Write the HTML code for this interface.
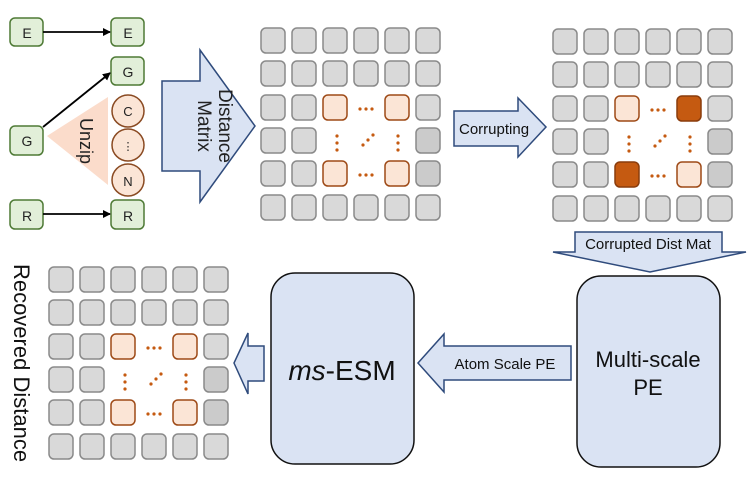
<!DOCTYPE html>
<html><head><meta charset="utf-8"><style>
html,body{margin:0;padding:0;background:#fff;}
svg{display:block;font-family:"Liberation Sans",sans-serif;}
</style></head><body>
<svg width="747" height="478" viewBox="0 0 747 478" xmlns="http://www.w3.org/2000/svg">
<defs>
<rect id="g" width="24" height="25" rx="5" fill="#d9d9d9" stroke="#8a8a8a" stroke-width="1.5"/>
<rect id="d" width="24" height="25" rx="5" fill="#cbcbcb" stroke="#8a8a8a" stroke-width="1.5"/>
<rect id="o" width="24" height="25" rx="5" fill="#fbe5d6" stroke="#9e4a17" stroke-width="1.5"/>
<rect id="x" width="24" height="25" rx="5" fill="#c55a11" stroke="#8a3c0c" stroke-width="1.5"/>
<g id="base">
<use href="#g" x="0" y="0"/><use href="#g" x="31" y="0"/><use href="#g" x="62" y="0"/><use href="#g" x="93" y="0"/><use href="#g" x="124" y="0"/><use href="#g" x="155" y="0"/>
<use href="#g" x="0" y="33"/><use href="#g" x="31" y="33"/><use href="#g" x="62" y="33"/><use href="#g" x="93" y="33"/><use href="#g" x="124" y="33"/><use href="#g" x="155" y="33"/>
<use href="#g" x="0" y="67"/><use href="#g" x="31" y="67"/><use href="#g" x="155" y="67"/>
<use href="#g" x="0" y="100"/><use href="#g" x="31" y="100"/><use href="#d" x="155" y="100"/>
<use href="#g" x="0" y="133"/><use href="#g" x="31" y="133"/><use href="#d" x="155" y="133"/>
<use href="#g" x="0" y="167"/><use href="#g" x="31" y="167"/><use href="#g" x="62" y="167"/><use href="#g" x="93" y="167"/><use href="#g" x="124" y="167"/><use href="#g" x="155" y="167"/>
<g fill="#c55a11">
<circle cx="99" cy="81" r="1.6"/><circle cx="105" cy="81" r="1.6"/><circle cx="111" cy="81" r="1.6"/>
<circle cx="99" cy="147" r="1.6"/><circle cx="105" cy="147" r="1.6"/><circle cx="111" cy="147" r="1.6"/>
<circle cx="76" cy="108" r="1.6"/><circle cx="76" cy="115" r="1.6"/><circle cx="76" cy="122" r="1.6"/>
<circle cx="137" cy="108" r="1.6"/><circle cx="137" cy="115" r="1.6"/><circle cx="137" cy="122" r="1.6"/>
<circle cx="102" cy="117" r="1.6"/><circle cx="107" cy="112" r="1.6"/><circle cx="112" cy="107" r="1.6"/>
</g>
</g>
<marker id="ah" markerWidth="8" markerHeight="8" refX="7" refY="4" orient="auto" markerUnits="userSpaceOnUse"><path d="M0,0 L8,4 L0,8 z" fill="#000"/></marker>
</defs>

<g fill="#e2efd9" stroke="#4e7a35" stroke-width="1.5">
<rect x="10" y="18" width="33" height="28" rx="5"/>
<rect x="111" y="18" width="33" height="28" rx="5"/>
<rect x="111" y="57" width="33" height="28" rx="5"/>
<rect x="10" y="126" width="33" height="29" rx="5"/>
<rect x="10" y="200" width="33" height="29" rx="5"/>
<rect x="111" y="200" width="33" height="29" rx="5"/>
</g>
<polygon points="47,136 108,97 108,185" fill="#fbdccb"/>
<g fill="#fbe5d6" stroke="#8a4a22" stroke-width="1.5">
<ellipse cx="128" cy="111" rx="16" ry="16"/>
<ellipse cx="128" cy="145" rx="16" ry="16"/>
<ellipse cx="128" cy="180" rx="16" ry="16"/>
</g>
<g stroke="#000" stroke-width="1.8" fill="none">
<line x1="43" y1="32" x2="110" y2="32" marker-end="url(#ah)"/>
<line x1="43" y1="127" x2="110" y2="73" marker-end="url(#ah)"/>
<line x1="43" y1="214" x2="110" y2="214" marker-end="url(#ah)"/>
</g>
<g font-size="14" fill="#222" text-anchor="middle">
<text x="27" y="38">E</text><text x="128" y="38">E</text><text x="128" y="77">G</text>
<text x="27" y="146">G</text><text x="27" y="221">R</text><text x="128" y="221">R</text>
<text x="128" y="116" font-size="13">C</text><text x="128" y="150" font-size="11">⋮</text><text x="128" y="186" font-size="13">N</text>
</g>
<text transform="translate(80,141) rotate(90)" font-size="18" fill="#222" text-anchor="middle">Unzip</text>

<polygon points="162,81 200,81 200,50 255,126 200,202 200,171 162,171" fill="#dae3f3" stroke="#2f4b7c" stroke-width="1.5"/>
<text transform="translate(198,126) rotate(90)" font-size="19" fill="#222" text-anchor="middle"><tspan x="0" y="-21">Distance</tspan><tspan x="0" y="0">Matrix</tspan></text>

<g transform="translate(261,28)"><use href="#base"/><use href="#o" x="62" y="67"/><use href="#o" x="124" y="67"/><use href="#o" x="62" y="133"/><use href="#o" x="124" y="133"/></g>

<polygon points="454,111 518,111 518,98 546,127 518,157 518,146 454,146" fill="#dae3f3" stroke="#2f4b7c" stroke-width="1.5"/>
<text x="459" y="134" font-size="15" fill="#111">Corrupting</text>

<g transform="translate(553,29)"><use href="#base"/><use href="#o" x="62" y="67"/><use href="#x" x="124" y="67"/><use href="#x" x="62" y="133"/><use href="#o" x="124" y="133"/></g>

<polygon points="575,232 722,232 722,252 746,252 650,272 553,252 575,252" fill="#dae3f3" stroke="#2f4b7c" stroke-width="1.5"/>
<text x="648" y="249" font-size="15" fill="#111" text-anchor="middle">Corrupted Dist Mat</text>

<rect x="577" y="276" width="143" height="191" rx="24" fill="#dae3f3" stroke="#111" stroke-width="1.5"/>
<text x="648" y="367" font-size="22" fill="#111" text-anchor="middle">Multi-scale</text>
<text x="648" y="395" font-size="22" fill="#111" text-anchor="middle">PE</text>

<polygon points="571,346 444,346 444,334 418,363 444,392 444,380 571,380" fill="#dae3f3" stroke="#2f4b7c" stroke-width="1.5"/>
<text x="505" y="369" font-size="15" fill="#111" text-anchor="middle">Atom Scale PE</text>

<rect x="271" y="273" width="143" height="191" rx="24" fill="#dae3f3" stroke="#111" stroke-width="1.5"/>
<text x="342" y="380" font-size="28" fill="#111" text-anchor="middle"><tspan font-style="italic">ms</tspan>-ESM</text>

<polygon points="264,346 248,346 248,333 234,363 248,394 248,381 264,381" fill="#dae3f3" stroke="#2f4b7c" stroke-width="1.5"/>

<g transform="translate(49,267)"><use href="#base"/><use href="#o" x="62" y="67"/><use href="#o" x="124" y="67"/><use href="#o" x="62" y="133"/><use href="#o" x="124" y="133"/></g>

<text transform="translate(14,363) rotate(90)" font-size="22" fill="#111" text-anchor="middle">Recovered Distance</text>
</svg>
</body></html>
